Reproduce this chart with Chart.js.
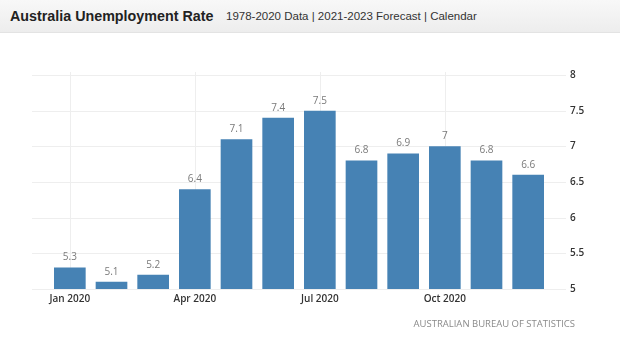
<!DOCTYPE html>
<html>
<head>
<meta charset="utf-8">
<script src="https://cdn.jsdelivr.net/npm/chart.js@4/dist/chart.umd.min.js"></script>
<style>
  html, body { margin: 0; padding: 0; background: #ffffff; }
  #wrap { position: relative; width: 620px; height: 356px; overflow: hidden; }
  #bar { position: absolute; left: 0; top: 0; width: 620px; height: 32px;
         background: linear-gradient(#f8f8f8, #ededed); border-bottom: 1px solid #e3e3e3; }
  #title { position: absolute; left: 10px; top: 8px; font: bold 14.3px "Liberation Sans", Arial, sans-serif; color: #222; white-space: nowrap; }
  #sub { position: absolute; left: 226px; top: 9.5px; font: 11.5px "Liberation Sans", Arial, sans-serif; color: #333; white-space: nowrap; }
  #src { position: absolute; right: 45px; top: 317px; font: 9.5px "Open Sans", sans-serif; color: #8a8a8a; white-space: nowrap; }
  canvas { position: absolute; left: 0; top: 0; }
</style>
</head>
<body>
<div id="wrap">
  <canvas id="c" width="620" height="356"></canvas>
  <div id="bar">
    <span id="title">Australia Unemployment Rate</span>
    <span id="sub">1978-2020 Data | 2021-2023 Forecast | Calendar</span>
  </div>
  <div id="src">AUSTRALIAN BUREAU OF STATISTICS</div>
</div>
<script>
const categories = ["Jan 2020","Feb 2020","Mar 2020","Apr 2020","May 2020","Jun 2020","Jul 2020","Aug 2020","Sep 2020","Oct 2020","Nov 2020","Dec 2020"];
const unemploymentRate = [5.3, 5.1, 5.2, 6.4, 7.1, 7.4, 7.5, 6.8, 6.9, 7, 6.8, 6.6];
const yMin = 5, yMax = 8, yStep = 0.5;
const shownTickEvery = 3;

const gridPlugin = {
  id: 'customGrid',
  beforeDatasetsDraw(chart) {
    const ctx = chart.ctx, ca = chart.chartArea;
    const ys = chart.scales.y, xs = chart.scales.x;
    ctx.save();
    ctx.strokeStyle = '#eeeeee';
    ctx.lineWidth = 1;
    ys.ticks.forEach((t, i) => {
      const y = Math.round(ys.getPixelForTick(i)) + 0.5;
      ctx.beginPath(); ctx.moveTo(32, y); ctx.lineTo(ca.right + 17, y); ctx.stroke();
    });
    categories.forEach((c, i) => {
      if (i % shownTickEvery !== 0) return;
      const x = Math.round(xs.getPixelForValue(i)) + 0.5;
      ctx.beginPath(); ctx.moveTo(x, ca.top - 3); ctx.lineTo(x, ca.bottom); ctx.stroke();
    });
    ctx.restore();
  }
};

const valuePlugin = {
  id: 'valueLabels',
  afterDatasetsDraw(chart) {
    const ctx = chart.ctx;
    const meta = chart.getDatasetMeta(0);
    ctx.save();
    ctx.font = '10px "Open Sans", sans-serif';
    ctx.fillStyle = '#7a7a7a';
    ctx.textAlign = 'center';
    ctx.textBaseline = 'bottom';
    meta.data.forEach((el, i) => {
      ctx.fillText(String(unemploymentRate[i]), el.x, el.y - 5);
    });
    ctx.restore();
  }
};

new Chart(document.getElementById('c'), {
  type: 'bar',
  data: {
    labels: categories,
    datasets: [{
      data: unemploymentRate,
      backgroundColor: '#4682b4',
      borderWidth: 0,
      categoryPercentage: 1,
      barPercentage: 0.76
    }]
  },
  options: {
    responsive: false,
    animation: false,
    devicePixelRatio: 1,
    layout: { padding: { left: 49, top: 75, right: 0, bottom: 0 } },
    plugins: { legend: { display: false }, tooltip: { enabled: false } },
    scales: {
      x: {
        grid: { display: false, drawTicks: false },
        border: { display: false },
        ticks: {
          autoSkip: false, maxRotation: 0, padding: 4,
          color: '#333', font: { family: '"Open Sans", sans-serif', size: 10, weight: '600' },
          callback: (v, i) => (i % shownTickEvery === 0 ? categories[i] : '')
        },
        afterFit: (s) => { s.height = 67; }
      },
      y: {
        position: 'right',
        min: yMin, max: yMax,
        grid: { display: false, drawTicks: false },
        border: { display: false },
        ticks: {
          stepSize: yStep, padding: 21,
          color: '#333', font: { family: '"Open Sans", sans-serif', size: 10, weight: '600' },
          callback: (v) => String(Number(v))
        },
        afterFit: (s) => { s.width = 71; }
      }
    }
  },
  plugins: [gridPlugin, valuePlugin]
});
</script>
</body>
</html>
